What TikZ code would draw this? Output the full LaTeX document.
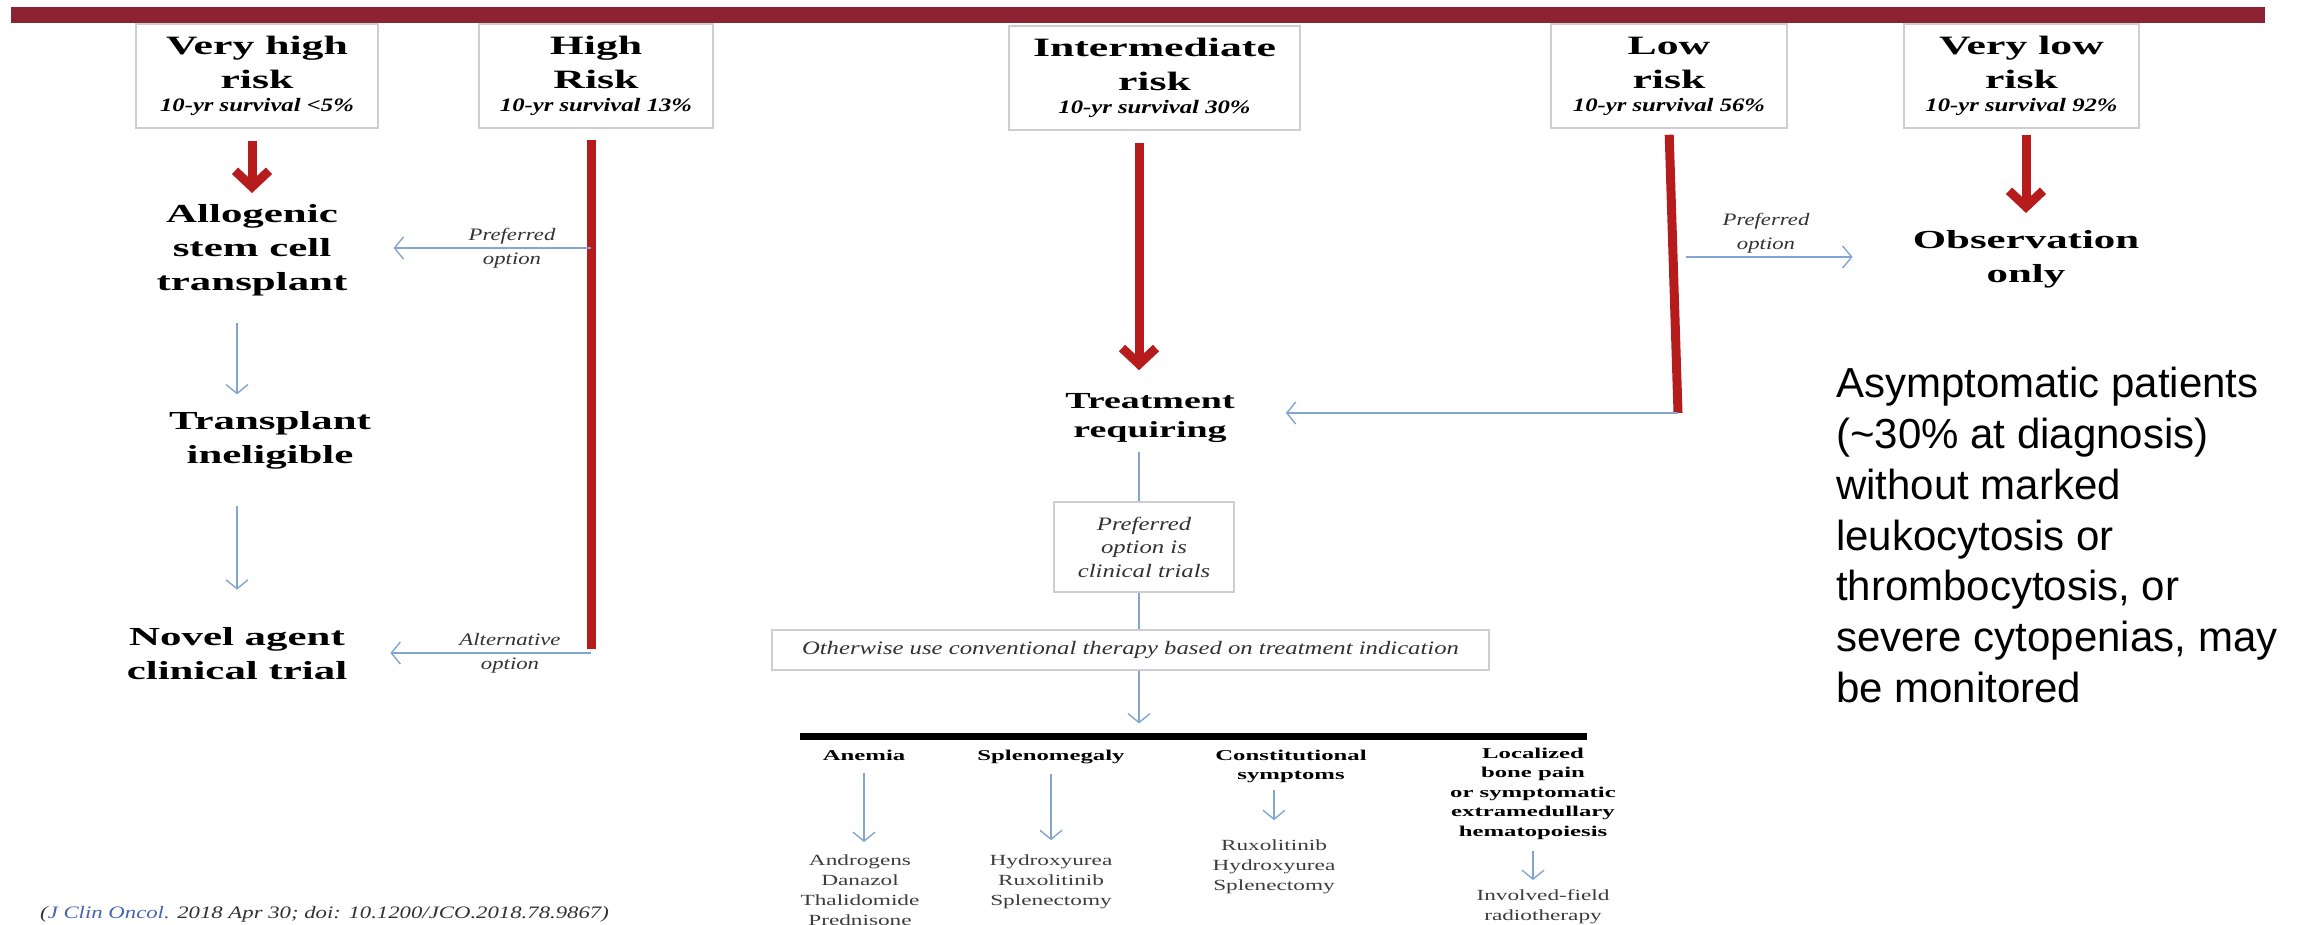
\documentclass[tikz,border=0pt]{standalone}
\usepackage{fontspec}
\setmainfont{Liberation Serif}
\newfontfamily\headfont[FakeStretch=1.65]{Liberation Serif}
\newfontfamily\itfont[FakeStretch=1.3]{Liberation Serif}
\newfontfamily\itemfont[FakeStretch=1.5]{Liberation Serif}
\newfontfamily\notefont{Liberation Sans}
\usetikzlibrary{arrows.meta}

\definecolor{barred}{RGB}{139,35,50}
\definecolor{shaftred}{RGB}{183,28,28}
\definecolor{linkblue}{RGB}{130,165,210}
\definecolor{boxgray}{RGB}{205,205,210}
\definecolor{labelgray}{RGB}{50,50,50}
\definecolor{itemgray}{RGB}{60,60,60}
\definecolor{citeblue}{RGB}{70,100,180}

\newcommand{\surv}[1]{\\[-11pt]{\itfont\bfseries\itshape\fontsize{19}{21}\selectfont 10-yr survival #1}}

\tikzset{
  riskbox/.style={draw=boxgray, line width=1.5pt, minimum width=#1, minimum height=104pt,
    inner sep=0pt, align=center, font=\headfont\bfseries\fontsize{26.5}{34}\selectfont},
  steptext/.style={inner sep=0pt, align=center, font=\headfont\bfseries\fontsize{26}{34}\selectfont},
  optlabel/.style={inner sep=0pt, align=center, text=labelgray, font=\itfont\itshape\fontsize{17.5}{24}\selectfont},
  optbox/.style={draw=boxgray, line width=1.5pt, inner sep=0pt, align=center, text=labelgray,
    minimum width=180pt, minimum height=90pt, font=\itfont\itshape\fontsize{19}{23.5}\selectfont},
  subhead/.style={inner sep=0pt, align=center, font=\headfont\bfseries\fontsize{15}{19.5}\selectfont},
  subitem/.style={inner sep=0pt, align=center, text=itemgray, font=\itemfont\fontsize{15.5}{20}\selectfont},
  redline/.style={draw=shaftred, line width=9pt},
  redarrow/.style={draw=shaftred, line width=9pt, -{Straight Barb[length=16pt, width=34pt]}},
  blueline/.style={draw=linkblue, line width=1.4pt},
  bluearrow/.style={draw=linkblue, line width=1.4pt, -{Straight Barb[length=9pt, width=22pt]}}
}

\begin{document}
\begin{tikzpicture}[x=1pt, y=-1pt]
\useasboundingbox (0,0) rectangle (2301,925);
% title bar
\fill[barred] (11,7) rectangle (2265,23);

% risk groups
\node[riskbox=242pt] (vhigh) at (257,76) {Very high\\risk\surv{<5\%}};
\node[riskbox=234pt] (high) at (596,76) {High\\Risk\surv{13\%}};
\node[riskbox=291pt] (inter) at (1154.5,78) {Intermediate\\risk\surv{30\%}};
\node[riskbox=236pt] (low) at (1669,76) {Low\\risk\surv{56\%}};
\node[riskbox=235pt] (vlow) at (2021.5,76) {Very low\\risk\surv{92\%}};

% very high / high risk
\node[steptext] (allo) at (252,250) {Allogenic\\stem cell\\transplant};
\node[steptext] (trans) at (270,440.5) {Transplant\\ineligible};
\node[steptext] (novel) at (237,654) {Novel agent\\clinical trial};
\node[optlabel] (pref1) at (512,248) {Preferred\\option};
\node[optlabel] (alt) at (510,653) {Alternative\\option};
\coordinate (highbot) at (591,653);

\draw[redarrow, shorten <=12pt, shorten >=11pt] (vhigh.south -| allo.north) -- (allo.north);
\draw[redline, shorten <=11pt] (high.south -| highbot) -- ([yshift=4.5pt]highbot);
\draw[bluearrow, shorten >=46pt] (pref1.center -| highbot) -- (pref1.center -| allo.east);
\draw[bluearrow, shorten >=43pt] (highbot) -- (highbot -| novel.east);
\draw[bluearrow, shorten <=27pt, shorten >=17pt] (novel.north |- allo.south) -- (novel.north |- trans.north);
\draw[bluearrow, shorten <=36pt, shorten >=38pt] (novel.north |- trans.south) -- (novel.north);

% intermediate risk
\coordinate (midcol) at (1139,0);
\node[steptext, font=\headfont\bfseries\fontsize{23}{29}\selectfont] (treat) at (1150,418) {Treatment\\requiring};
\node[optbox] (trialbox) at (1144,547) {Preferred\\option is\\clinical trials};
\node[optbox, minimum width=717pt, minimum height=40pt] (othbox) at (1130.5,650) {Otherwise use conventional therapy based on treatment indication};
\coordinate (barL) at (800,736.5);
\coordinate (barR) at (1587,736.5);

\draw[redarrow, shorten <=12pt, shorten >=23pt] (inter.south -| midcol) -- (treat.north -| midcol);
\draw[blueline, shorten <=9pt] (treat.south -| midcol) -- (trialbox.north -| midcol);
\draw[blueline] (trialbox.south -| midcol) -- (othbox.north -| midcol);
\draw[bluearrow, shorten >=13pt] (othbox.south -| midcol) -- (barL -| midcol);
\draw[line width=7pt] (barL) -- (barR);

% treatment indications
\node[subhead, anchor=base] (anemia) at (864,760) {Anemia};
\node[subhead, anchor=base] (splen) at (1051,760) {Splenomegaly};
\node[subhead] (const) at (1291,766.3) {Constitutional\\symptoms};
\node[subhead] (local) at (1533,793.6) {Localized\\bone pain\\or symptomatic\\extramedullary\\hematopoiesis};
\node[subitem] (anemiatx) at (860,889.7) {Androgens\\Danazol\\Thalidomide\\Prednisone};
\node[subitem] (splentx) at (1051,881.4) {Hydroxyurea\\Ruxolitinib\\Splenectomy};
\node[subitem] (consttx) at (1274,866.4) {Ruxolitinib\\Hydroxyurea\\Splenectomy};
\node[subitem] (localtx) at (1543,906.4) {Involved-field\\radiotherapy};

\draw[bluearrow, shorten <=13pt, shorten >=12pt] (anemia.south) -- (anemia.south |- anemiatx.north);
\draw[bluearrow, shorten <=10pt, shorten >=14pt] (splen.south) -- (splen.south |- splentx.north);
\draw[bluearrow, shorten <=7pt, shorten >=19pt] (const.south -| consttx.north) -- (consttx.north);
\draw[bluearrow, shorten <=11pt, shorten >=9pt] (local.south) -- (local.south |- localtx.north);

% low / very low risk
\node[steptext] (obs) at (2026,259) {Observation\\only};
\node[optlabel] (pref2) at (1766,233) {Preferred\\option};
\coordinate (lowmid) at (1673,257);
\coordinate (lowbot) at (1678,413);

\draw[redline, shorten <=6pt] (low.south) -- (lowbot);
\draw[redarrow, shorten <=6pt, shorten >=17pt] (vlow.south -| obs.north) -- (obs.north);
\draw[bluearrow, shorten <=13pt, shorten >=60pt] (lowmid) -- (lowmid -| obs.west);
\draw[bluearrow, shorten >=51pt] (lowbot) -- (lowbot -| treat.east);

% note and source
\node[anchor=north west, inner sep=0pt, align=left, font=\notefont\fontsize{42}{50.8}\selectfont] (note) at (1836,367)
  {Asymptomatic patients\\(\textasciitilde30\% at diagnosis)\\without marked\\leukocytosis or\\thrombocytosis, or\\severe cytopenias, may\\be monitored};
\node[anchor=base west, inner sep=0pt, text=labelgray, font=\itfont\itshape\fontsize{17.5}{21}\selectfont] (cite) at (40,918)
  {({\color{citeblue}J Clin Oncol.} 2018 Apr 30; doi: 10.1200/JCO.2018.78.9867)};
\end{tikzpicture}
\end{document}
